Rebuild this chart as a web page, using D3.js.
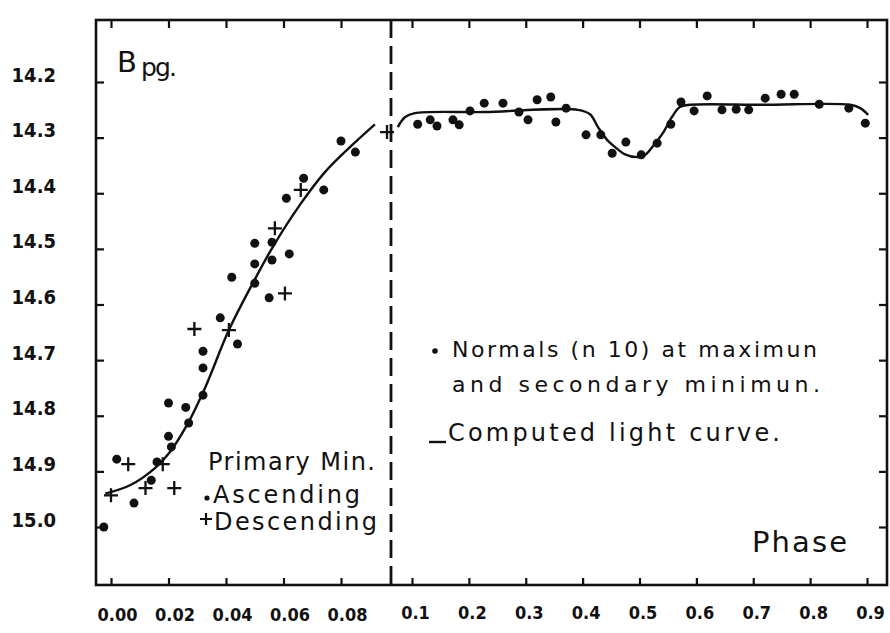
<!DOCTYPE html>
<html>
<head>
<meta charset="utf-8">
<script src="https://cdn.jsdelivr.net/npm/d3@7"></script>
<style>
  body { margin: 0; background: #fff; }
  svg { display: block; }
  .lbl { font-family: "DejaVu Sans", sans-serif; fill: #111; }
  .tick text { font-family: "DejaVu Sans Condensed", "DejaVu Sans", sans-serif; font-weight: bold; fill: #111; }
  .tick line { stroke: #111; stroke-width: 2.2; }
</style>
</head>
<body>
<div id="chart"></div>
<script>
// tick values
var yTicks = [14.2, 14.3, 14.4, 14.5, 14.6, 14.7, 14.8, 14.9, 15.0];
var xTicksLeft = [0.00, 0.02, 0.04, 0.06, 0.08];
var xTicksRight = [0.1, 0.2, 0.3, 0.4, 0.5, 0.6, 0.7, 0.8, 0.9];

// primary minimum, ascending branch (dots)
var ascPhase = [0.080, 0.085, 0.067, 0.074, 0.061, 0.050, 0.056, 0.062, 0.056, 0.050,
                0.042, 0.050, 0.055, 0.038, 0.044, 0.032, 0.032, 0.020, 0.032, 0.026,
                0.027, 0.020, 0.021, 0.002, 0.016, 0.014, 0.008, -0.0025];
var ascMag = [14.306, 14.326, 14.373, 14.394, 14.409, 14.490, 14.488, 14.509, 14.520, 14.527,
              14.551, 14.562, 14.588, 14.624, 14.671, 14.684, 14.714, 14.777, 14.763, 14.785,
              14.813, 14.837, 14.856, 14.878, 14.883, 14.916, 14.957, 15.000];

// primary minimum, descending branch (crosses)
var descPhase = [0.096, 0.066, 0.057, 0.0605, 0.029, 0.041, 0.006, 0.018, 0.012, 0.022, 0.000];
var descMag = [14.290, 14.394, 14.463, 14.580, 14.644, 14.646, 14.887, 14.887, 14.930, 14.930, 14.943];

// normals at maximum and secondary minimum
var normPhase = [0.110, 0.132, 0.144, 0.172, 0.183, 0.202, 0.227, 0.260, 0.288, 0.304,
                 0.320, 0.344, 0.353, 0.371, 0.406, 0.432, 0.452, 0.476, 0.503, 0.531,
                 0.555, 0.573, 0.596, 0.619, 0.645, 0.670, 0.692, 0.721, 0.749, 0.772,
                 0.816, 0.868, 0.897];
var normMag = [14.276, 14.268, 14.279, 14.268, 14.277, 14.252, 14.238, 14.238, 14.254, 14.268,
               14.232, 14.227, 14.272, 14.247, 14.295, 14.295, 14.328, 14.308, 14.331, 14.310,
               14.276, 14.236, 14.252, 14.225, 14.250, 14.249, 14.250, 14.229, 14.222, 14.222,
               14.240, 14.247, 14.274];

// computed light curve, primary minimum part
var curveLeftPhase = [-0.002, 0.0066, 0.0153, 0.0205, 0.0264, 0.0327, 0.041, 0.0497, 0.056, 0.0657, 0.0744, 0.0831, 0.0918];
var curveLeftMag = [14.940, 14.925, 14.894, 14.865, 14.817, 14.750, 14.646, 14.558, 14.499, 14.421, 14.362, 14.317, 14.276];

// computed light curve, maximum and secondary minimum
var curveRightPhase = [0.075, 0.088, 0.105, 0.228, 0.392, 0.413, 0.427, 0.443, 0.457, 0.4745, 0.497, 0.510,
                       0.5255, 0.541, 0.557, 0.571, 0.589, 0.717, 0.870, 0.888, 0.902];
var curveRightMag = [14.281, 14.263, 14.256, 14.254, 14.250, 14.258, 14.281, 14.304, 14.317, 14.330, 14.335, 14.331,
                     14.313, 14.292, 14.263, 14.245, 14.241, 14.241, 14.241, 14.247, 14.259];

// frame of the plot
var width = 890, height = 633;
var frame = {left: 96, right: 887, top: 20, bottom: 585};
var breakX = 391;

var svg = d3.select("#chart").append("svg")
            .attr("width", width)
            .attr("height", height);

// scales: broken phase axis, magnitude increasing downward
var xL = d3.scaleLinear().domain([0, 0.08]).range([111, 341]);
var xR = d3.scaleLinear().domain([0.1, 0.9]).range([412, 867]);
var y = d3.scaleLinear().domain([14.2, 15.0]).range([82, 527]);

// axes (ticks pointing inward)
var gLeft = svg.append("g")
    .attr("transform", "translate(" + frame.left + ",0)")
    .call(d3.axisLeft(y).tickValues(yTicks).tickSize(-8).tickPadding(40).tickFormat(d3.format(".1f")));
gLeft.selectAll("text").attr("dy", "-0.05em").style("font-size", "20px");

svg.append("g")
    .attr("transform", "translate(" + frame.right + ",0)")
    .call(d3.axisRight(y).tickValues(yTicks).tickSize(-8).tickFormat(""));

var gBotL = svg.append("g")
    .attr("transform", "translate(0," + frame.bottom + ")")
    .call(d3.axisBottom(xL).tickValues(xTicksLeft).tickSize(-7).tickPadding(23).tickFormat(d3.format(".2f")));
gBotL.selectAll("text").attr("dx", 6).style("font-size", "18px");

var gBotR = svg.append("g")
    .attr("transform", "translate(0," + frame.bottom + ")")
    .call(d3.axisBottom(xR).tickValues(xTicksRight).tickSize(-7).tickPadding(21).tickFormat(d3.format(".1f")));
gBotR.selectAll("text").attr("dx", 3).style("font-size", "18px");

svg.append("g")
    .attr("transform", "translate(0," + frame.top + ")")
    .call(d3.axisTop(xL).tickValues(xTicksLeft).tickSize(-8).tickFormat(""));
svg.append("g")
    .attr("transform", "translate(0," + frame.top + ")")
    .call(d3.axisTop(xR).tickValues(xTicksRight).tickSize(-8).tickFormat(""));

svg.selectAll(".domain").remove();

// frame box
svg.append("rect")
    .attr("x", frame.left)
    .attr("y", frame.top)
    .attr("width", frame.right - frame.left)
    .attr("height", frame.bottom - frame.top)
    .attr("fill", "none")
    .attr("stroke", "#111")
    .attr("stroke-width", 2.6);

// dashed break between the two phase ranges
svg.append("line")
    .attr("x1", breakX).attr("x2", breakX)
    .attr("y1", frame.top).attr("y2", frame.bottom)
    .attr("stroke", "#111")
    .attr("stroke-width", 2.8)
    .attr("stroke-dasharray", "18,8");

// computed light curves
var lineL = d3.line()
    .x(function(d, i) { return xL(curveLeftPhase[i]); })
    .y(function(d) { return y(d); })
    .curve(d3.curveCatmullRom);
var lineR = d3.line()
    .x(function(d, i) { return xR(curveRightPhase[i]); })
    .y(function(d) { return y(d); })
    .curve(d3.curveCatmullRom);

svg.append("path")
    .attr("d", lineL(curveLeftMag))
    .attr("fill", "none").attr("stroke", "#111").attr("stroke-width", 2.4);
svg.append("path")
    .attr("d", lineR(curveRightMag))
    .attr("fill", "none").attr("stroke", "#111").attr("stroke-width", 2.4);

// observations
svg.selectAll(".asc")
    .data(ascMag)
    .enter().append("circle")
    .attr("class", "asc")
    .attr("cx", function(d, i) { return xL(ascPhase[i]); })
    .attr("cy", function(d) { return y(d); })
    .attr("r", 4.5)
    .attr("fill", "#111");

svg.selectAll(".desc")
    .data(descMag)
    .enter().append("path")
    .attr("class", "desc")
    .attr("transform", function(d, i) { return "translate(" + xL(descPhase[i]) + "," + y(d) + ")"; })
    .attr("d", "M-7,0H7M0,-7V7")
    .attr("stroke", "#111")
    .attr("stroke-width", 2.3);

svg.selectAll(".norm")
    .data(normMag)
    .enter().append("circle")
    .attr("class", "norm")
    .attr("cx", function(d, i) { return xR(normPhase[i]); })
    .attr("cy", function(d) { return y(d); })
    .attr("r", 4.5)
    .attr("fill", "#111");

// labels
svg.append("text").attr("class", "lbl")
    .attr("x", 117).attr("y", 72)
    .style("font-size", "29px")
    .text("B");
svg.append("text").attr("class", "lbl")
    .attr("x", 141).attr("y", 76)
    .style("font-size", "25px")
    .attr("textLength", 36)
    .text("pg.");

svg.append("text").attr("class", "lbl")
    .attr("x", 208).attr("y", 470)
    .style("font-size", "24px")
    .attr("textLength", 167)
    .text("Primary Min.");
svg.append("circle").attr("cx", 207).attr("cy", 498).attr("r", 2.6).attr("fill", "#111");
svg.append("text").attr("class", "lbl")
    .attr("x", 213).attr("y", 503)
    .style("font-size", "24px")
    .attr("textLength", 147)
    .text("Ascending");
svg.append("path")
    .attr("transform", "translate(206,519)")
    .attr("d", "M-6,0H6M0,-6V6")
    .attr("stroke", "#111").attr("stroke-width", 2.2);
svg.append("text").attr("class", "lbl")
    .attr("x", 214).attr("y", 530)
    .style("font-size", "24px")
    .attr("textLength", 163)
    .text("Descending");

svg.append("circle").attr("cx", 435).attr("cy", 351).attr("r", 2.8).attr("fill", "#111");
svg.append("text").attr("class", "lbl")
    .attr("x", 452).attr("y", 357)
    .style("font-size", "22px")
    .attr("textLength", 365)
    .attr("lengthAdjust", "spacing")
    .text("Normals (n 10) at maximun");
svg.append("text").attr("class", "lbl")
    .attr("x", 452).attr("y", 392)
    .style("font-size", "22px")
    .attr("textLength", 368)
    .attr("lengthAdjust", "spacing")
    .text("and secondary minimun.");
svg.append("line")
    .attr("x1", 429).attr("x2", 446)
    .attr("y1", 442).attr("y2", 442)
    .attr("stroke", "#111").attr("stroke-width", 2.4);
svg.append("text").attr("class", "lbl")
    .attr("x", 448).attr("y", 441)
    .style("font-size", "24px")
    .attr("textLength", 332)
    .attr("lengthAdjust", "spacing")
    .text("Computed light curve.");

svg.append("text").attr("class", "lbl")
    .attr("x", 752).attr("y", 552)
    .style("font-size", "29px")
    .attr("textLength", 95)
    .text("Phase");
</script>
</body>
</html>
